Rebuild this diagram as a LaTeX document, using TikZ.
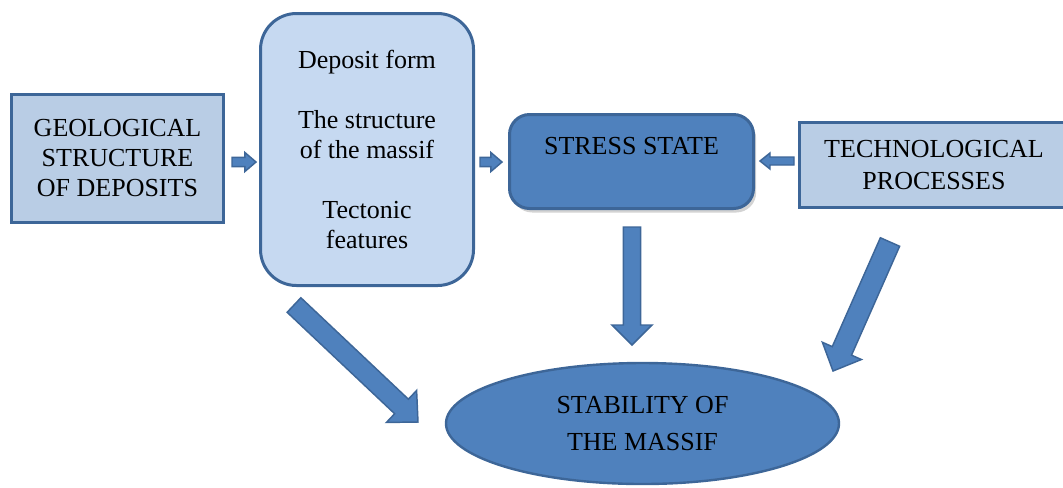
\documentclass[tikz,border=0pt]{standalone}
\usepackage{fontspec}
\setmainfont{Liberation Serif}
\usepackage{tikz}
\usetikzlibrary{positioning, calc, shapes, shapes.geometric, shadows}
\definecolor{dblue}{HTML}{3D6698}
\definecolor{mblue}{HTML}{4F81BD}
\definecolor{lblue}{HTML}{B9CDE5}
\definecolor{pblue}{HTML}{C6D9F1}
\tikzset{pxfig/.style={x=0.75pt, y=-0.75pt, every node/.style={outer sep=0, text=black, font=\fontsize{19.5}{22.5}\selectfont, align=center}}}
\tikzset{lbox/.style={draw=dblue, line width=2.25pt, fill=lblue, inner sep=0}}
\tikzset{rbox/.style={draw=dblue, line width=2.25pt, fill=pblue, rounded corners=27pt, inner sep=0}}
\tikzset{sbox/.style={draw=dblue, line width=2.25pt, fill=mblue, rounded corners=15pt, inner sep=0, drop shadow={opacity=0.35, shadow xshift=2pt, shadow yshift=-3pt}}}
\tikzset{ebox/.style={ellipse, draw=dblue, line width=1.8pt, fill=mblue, inner sep=0}}
\tikzset{barr/.style={draw=dblue, line width=1.1pt, fill=mblue, line join=miter}}
\newcommand{\blockarr}[5]{%
  \coordinate (hb) at ($(#2)!#5!(#1)$);
  \draw[barr] ($(#1)!#3!90:(#2)$) -- ($(hb)!#3!90:(#2)$) -- ($(hb)!#4!90:(#2)$) -- (#2)
    -- ($(hb)!#4!-90:(#2)$) -- ($(hb)!#3!-90:(#2)$) -- ($(#1)!#3!-90:(#2)$) -- cycle;}

\begin{document}
\begin{tikzpicture}[pxfig]
  \useasboundingbox (0,0) rectangle (1063,487);
  \clip (0,0) rectangle (1063,487);
  \node[lbox, minimum width=159pt, minimum height=96pt] (geo) at (117.5,158.5) {GEOLOGICAL\\STRUCTURE\\OF DEPOSITS};
  \node[rbox, minimum width=159.75pt, minimum height=204pt] (form) at (367,149.5) {Deposit form\\[22.5pt]The structure\\of the massif\\[22.5pt]Tectonic\\features};
  \node[sbox, minimum width=183pt, minimum height=70.5pt] (stress) at (631.5,161.5) {STRESS STATE\\ \phantom{S}};
  \node[lbox, minimum width=202.5pt, minimum height=63.75pt] (tech) at (934,165) {TECHNOLOGICAL\\[2pt]PROCESSES};
  \node[ebox, minimum width=294.75pt, minimum height=90.75pt] (stab) at (642.5,423.5) {STABILITY OF\\[5pt]THE MASSIF};

  \coordinate (a1) at ($(geo.east)+(8.5,3.5)$);
  \coordinate (a2) at ($(form.west)+(-4.5,12.5)$);
  \coordinate (a3) at ($(form.east)+(6.5,12.5)$);
  \coordinate (a4) at ($(stress.west)+(-7.5,0.5)$);
  \coordinate (a5) at ($(tech.west)+(-5,-4)$);
  \coordinate (a6) at ($(stress.east)+(6.5,-0.5)$);
  \coordinate (a7) at ($(stress.south)+(0.5,18.5)$);
  \coordinate (a8) at ($(stab.north)+(-10.5,-18)$);
  \coordinate (a9) at ($(form.south)+(-73,19.5)$);
  \coordinate (a10) at ($(stab.west)+(-28,-1.5)$);
  \coordinate (a11) at ($(tech.south)+(-44,34.5)$);
  \coordinate (a12) at ($(stab.east)+(-6,-52.5)$);

  \blockarr{a1}{a2}{3.4pt}{7.1pt}{8.3pt}
  \blockarr{a3}{a4}{3.4pt}{7.1pt}{8.3pt}
  \blockarr{a5}{a6}{3pt}{6pt}{7.5pt}
  \blockarr{a7}{a8}{6.4pt}{15pt}{15pt}
  \blockarr{a9}{a10}{7.5pt}{16.5pt}{17pt}
  \blockarr{a11}{a12}{7.9pt}{16pt}{16.5pt}
\end{tikzpicture}
\end{document}
